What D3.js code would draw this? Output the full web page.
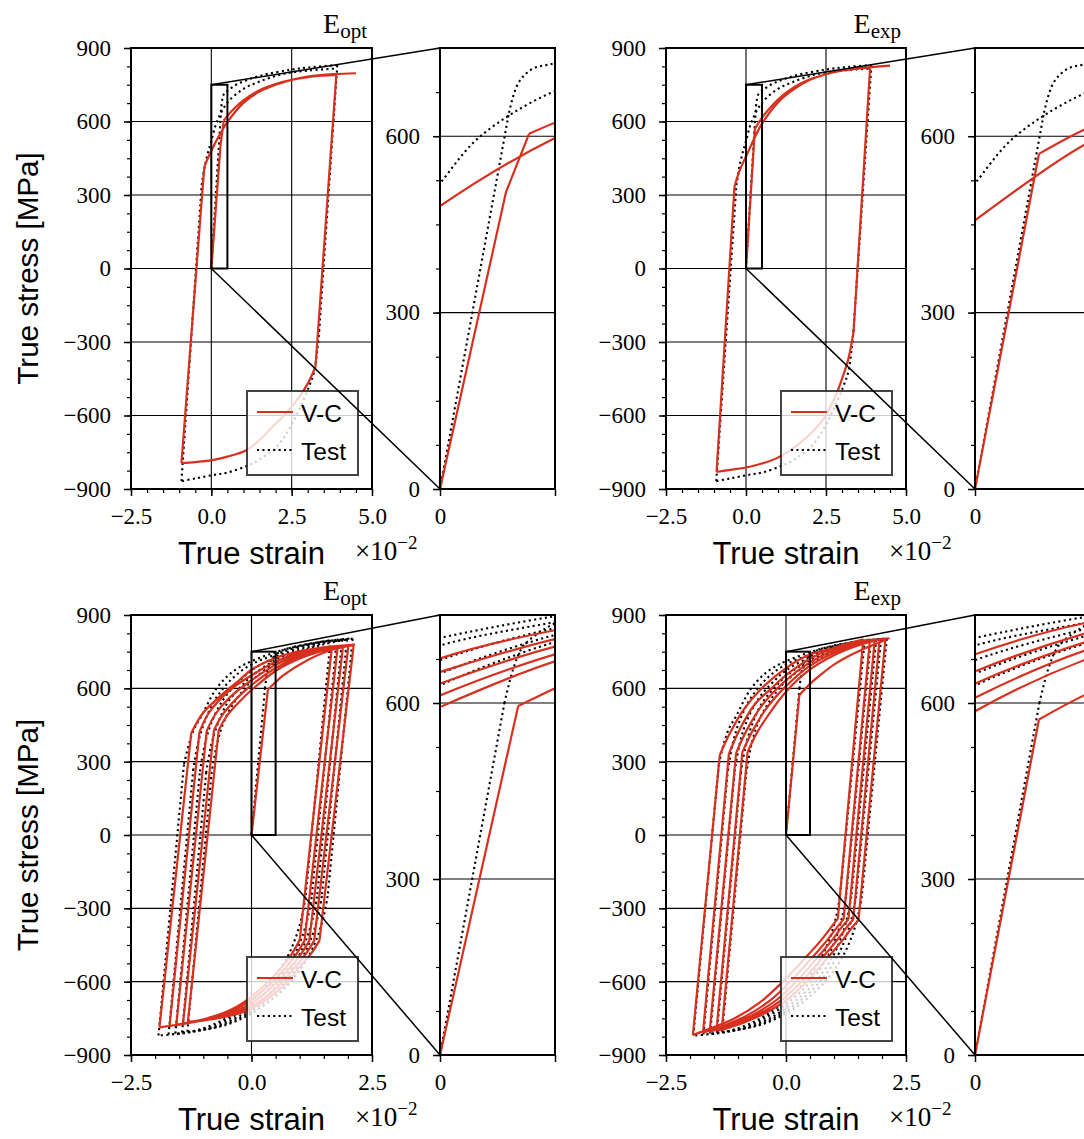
<!DOCTYPE html>
<html><head><meta charset="utf-8">
<script src="https://cdn.jsdelivr.net/npm/d3@7"></script>
<style>body{margin:0;background:#fff}svg{display:block}</style>
</head><body><svg id="c" width="1084" height="1139"></svg>
<script>
// ---------------- DATA (strain in units of 1e-2, stress in MPa) ----------------
const topXTicks = [-2.5, 0, 2.5, 5.0];
const botXTicks = [-2.5, 0, 2.5];
const yTicks = [-900, -600, -300, 0, 300, 600, 900];
const insetYTicks = [0, 300, 600];
const insetXTicks = [0, 0.5];
const insetXTickLabels = ["0", ""];
const zoomBox = {x: [0, 0.5], y: [0, 750]};
const titleSubs = ["opt", "exp"];
const legendLabels = ["V-C", "Test"];
const yLabel = "True stress [MPa]";
const xLabel = "True strain";

// Top-left: V-C with E_opt
const tlVC = [
 [[0,0],[0.287,505]],
 [[0.287,505],[0.387,604]],
 [[0.387,604],[0.5,623],[0.75,658],[1.0,686],[1.5,728],[2.0,753],[2.5,770],[3.0,781],[3.5,787],[3.89,790]],
 [[3.89,790],[3.24,-402]],
 [[3.24,-402],[3.0,-470],[2.74,-524],[2.3,-595],[1.9,-647],[1.5,-700],[1.09,-742],[0.5,-768],[0.03,-782],[-0.5,-790],[-0.93,-794]],
 [[-0.93,-794],[-0.22,414]],
 [[-0.22,414],[0,481],[0.5,597],[1.0,676],[1.5,722],[2.0,750],[2.5,770],[3.0,783],[3.8,793],[4.5,797]]
];
// Top-right: V-C with E_exp
const trVC = [
 [[0,0],[0.278,570]],
 [[0.278,570],[0.474,611],[0.75,655],[1.0,690],[1.5,740],[2.0,772],[2.5,793],[3.0,808],[3.5,817],[3.88,822]],
 [[3.88,822],[3.36,-260]],
 [[3.36,-260],[3.19,-374],[3.0,-450],[2.83,-510],[2.4,-618],[1.68,-713],[0.95,-775],[0.12,-809],[-0.5,-822],[-0.92,-830]],
 [[-0.92,-830],[-0.36,334]],
 [[-0.36,334],[-0.2,400],[0,457],[0.474,585],[1.0,678],[1.5,732],[2.0,770],[2.5,793],[3.03,808],[3.8,820],[4.5,828]]
];
// Top row: test data
const topTest = [
 [[0,0],[0.30,640]],
 [[0.30,640],[0.34,690],[0.40,714],[0.5,724],[0.8,752],[1.5,786],[2.5,812],[3.2,823],[3.92,830]],
 [[3.92,830],[3.36,-250]],
 [[3.36,-250],[3.3,-330],[3.2,-420],[3.03,-485],[2.7,-585],[2.4,-660],[2.05,-725],[1.5,-780],[1.1,-806],[0.5,-833],[0.05,-843],[-0.5,-857],[-0.93,-868]],
 [[-0.93,-868],[-0.30,340]],
 [[-0.30,340],[-0.2,420],[-0.1,475],[0,520],[0.17,598],[0.5,677],[1.0,733],[1.5,763],[2.2,793],[3.0,808],[3.88,816]]
];
// Bottom-left: cyclic V-C with E_opt
const blVC = [
 [[0,0],[0.34,595]],
 [[0.34,595],[0.5,625],[0.65,652],[1.13,712],[1.62,755],[2.12,777]],
 [[2.12,777],[1.41,-432]],
 [[1.41,-432],[1.24,-484],[1.0,-539],[0.72,-607],[0.30,-675],[-0.11,-720],[-0.66,-748],[-1.32,-764]],
 [[-1.32,-764],[-0.68,429]],
 [[-0.68,429],[-0.5,490],[-0.2,555],[0,593],[0.5,671],[1.0,722],[1.5,755],[2.01,776]],
 [[2.01,776],[1.30,-432]],
 [[1.30,-432],[1.13,-485],[0.9,-541],[0.6,-609],[0.2,-677],[-0.25,-724],[-0.8,-752],[-1.42,-770]],
 [[-1.42,-770],[-0.78,428]],
 [[-0.78,428],[-0.6,492],[-0.3,560],[0,613],[0.5,683],[1.0,730],[1.5,760],[1.90,775]],
 [[1.90,775],[1.20,-432]],
 [[1.20,-432],[1.03,-486],[0.8,-543],[0.48,-612],[0.05,-681],[-0.4,-728],[-0.95,-757],[-1.56,-776]],
 [[-1.56,-776],[-0.93,425]],
 [[-0.93,425],[-0.75,494],[-0.45,563],[0,633],[0.5,696],[1.0,738],[1.4,760],[1.79,773]],
 [[1.79,773],[1.10,-432]],
 [[1.10,-432],[0.93,-487],[0.7,-545],[0.36,-615],[-0.08,-685],[-0.55,-732],[-1.1,-762],[-1.70,-781]],
 [[-1.70,-781],[-1.08,421]],
 [[-1.08,421],[-0.9,495],[-0.6,565],[-0.3,615],[0,653],[0.5,709],[1.0,745],[1.67,771]],
 [[1.67,771],[1.00,-430]],
 [[1.00,-430],[0.83,-488],[0.6,-547],[0.25,-618],[-0.2,-690],[-0.7,-737],[-1.3,-767],[-1.91,-787]],
 [[-1.91,-787],[-1.25,417]],
 [[-1.25,417],[-1.01,498],[-0.66,566],[-0.25,634],[0,676],[0.5,724],[1.0,752],[1.5,768],[2.15,779]]
];
// Bottom-right: cyclic V-C with E_exp
const brVC = [
 [[0,0],[0.278,572]],
 [[0.278,572],[0.474,613],[0.75,660],[1.0,697],[1.34,735],[1.75,772],[2.07,798]],
 [[2.07,798],[1.51,-348]],
 [[1.51,-348],[1.35,-385],[1.2,-425],[0.92,-490],[0.5,-585],[0.08,-665],[-0.4,-725],[-0.85,-765],[-1.34,-798]],
 [[-1.34,-798],[-0.80,340]],
 [[-0.80,340],[-0.6,420],[-0.3,510],[0,586],[0.474,673],[1.0,735],[1.5,775],[1.95,800]],
 [[1.95,800],[1.40,-346]],
 [[1.40,-346],[1.24,-384],[1.08,-426],[0.8,-492],[0.37,-590],[-0.06,-670],[-0.55,-731],[-1.0,-770],[-1.45,-802]],
 [[-1.45,-802],[-0.91,338]],
 [[-0.91,338],[-0.7,425],[-0.4,520],[0,609],[0.474,689],[1.0,746],[1.5,783],[1.85,801]],
 [[1.85,801],[1.30,-345]],
 [[1.30,-345],[1.13,-385],[0.97,-428],[0.68,-495],[0.24,-594],[-0.2,-675],[-0.7,-737],[-1.15,-775],[-1.59,-805]],
 [[-1.59,-805],[-1.04,335]],
 [[-1.04,335],[-0.82,428],[-0.5,530],[0,633],[0.474,703],[1.0,756],[1.4,784],[1.75,801]],
 [[1.75,801],[1.20,-344]],
 [[1.20,-344],[1.03,-386],[0.86,-430],[0.56,-498],[0.1,-598],[-0.35,-680],[-0.85,-742],[-1.3,-780],[-1.73,-809]],
 [[-1.73,-809],[-1.19,332]],
 [[-1.19,332],[-0.97,430],[-0.65,535],[-0.3,600],[0,654],[0.474,718],[1.0,765],[1.61,800]],
 [[1.61,800],[1.08,-342]],
 [[1.08,-342],[0.9,-388],[0.72,-433],[0.4,-503],[-0.08,-603],[-0.55,-686],[-1.05,-748],[-1.5,-786],[-1.94,-818]],
 [[-1.94,-818],[-1.38,327]],
 [[-1.38,327],[-1.17,416],[-0.89,511],[-0.47,607],[0,683],[0.474,736],[1.06,768],[1.61,790],[2.16,805]]
];
// Bottom row: cyclic test data
const botTest = [
 [[0,0],[0.28,600]],
 [[0.28,600],[0.32,660],[0.36,696],[0.41,714],[0.5,736],[0.65,756],[1.0,773],[1.34,786],[1.7,796],[2.10,803]],
 [[2.10,803],[1.58,-250]],
 [[1.58,-250],[1.5,-330],[1.38,-410],[1.2,-490],[0.9,-580],[0.5,-660],[0,-730],[-0.5,-775],[-1.0,-797],[-1.33,-805]],
 [[-1.33,-805],[-0.83,250]],
 [[-0.83,250],[-0.73,360],[-0.6,450],[-0.4,530],[-0.2,585],[0,630],[0.5,704],[1.0,750],[1.5,780],[1.98,800]],
 [[1.98,800],[1.46,-250]],
 [[1.46,-250],[1.38,-332],[1.26,-412],[1.08,-492],[0.78,-583],[0.38,-664],[-0.12,-735],[-0.62,-780],[-1.1,-801],[-1.44,-808]],
 [[-1.44,-808],[-0.94,255]],
 [[-0.94,255],[-0.84,365],[-0.7,455],[-0.5,540],[-0.25,600],[0,650],[0.5,716],[1.0,757],[1.5,785],[1.88,800]],
 [[1.88,800],[1.36,-252]],
 [[1.36,-252],[1.28,-334],[1.16,-414],[0.98,-495],[0.67,-587],[0.26,-668],[-0.25,-740],[-0.75,-785],[-1.25,-806],[-1.58,-812]],
 [[-1.58,-812],[-1.07,260]],
 [[-1.07,260],[-0.97,370],[-0.83,460],[-0.6,550],[-0.3,620],[0,673],[0.5,728],[1.0,765],[1.4,785],[1.77,798]],
 [[1.77,798],[1.25,-254]],
 [[1.25,-254],[1.17,-336],[1.05,-416],[0.87,-497],[0.55,-590],[0.13,-672],[-0.4,-745],[-0.9,-790],[-1.4,-811],[-1.72,-816]],
 [[-1.72,-816],[-1.21,265]],
 [[-1.21,265],[-1.11,375],[-0.97,465],[-0.75,555],[-0.4,640],[0,698],[0.5,738],[1.0,772],[1.64,797]],
 [[1.64,797],[1.12,-256]],
 [[1.12,-256],[1.04,-338],[0.92,-418],[0.74,-500],[0.42,-594],[0,-678],[-0.55,-752],[-1.1,-797],[-1.6,-815],[-1.93,-820]],
 [[-1.93,-820],[-1.40,290]],
 [[-1.40,290],[-1.3,370],[-1.2,430],[-1.03,490],[-0.75,593],[-0.47,655],[-0.2,692],[0,711],[0.5,748],[1.0,775],[1.5,792],[2.10,805]]
];

// ---------------- LAYOUT / STYLE ----------------
const RED = "#d8301f";
const SERIF = "'Liberation Serif', 'Times New Roman', serif";
const SANS = "'Liberation Sans', Arial, sans-serif";
const svg = d3.select("#c");
const cols = [{mx:131, mw:241, ix:440}, {mx:666, mw:240, ix:975}];
const rows = [{my:48, mh:441, xDom:[-2.5,5.0], xTicks:topXTicks},
              {my:615, mh:440, xDom:[-2.5,2.5], xTicks:botXTicks}];
const insetW = 115;
const panels = [
  {r:0, c:0, vc:tlVC, test:topTest}, {r:0, c:1, vc:trVC, test:topTest},
  {r:1, c:0, vc:blVC, test:botTest}, {r:1, c:1, vc:brVC, test:botTest}
];
const yFmt = d3.format("d");
const xFmt = d3.format(".1f");

function styleAxis(g){
  g.select(".domain").remove();
  g.attr("font-family", SERIF).attr("font-size", 23);
  g.selectAll(".tick line").attr("stroke", "#000").attr("stroke-width", 1.5);
  g.selectAll(".tick text").attr("fill", "#000");
}
function styleMinor(g){
  g.select(".domain").remove();
  g.selectAll(".tick line").attr("stroke", "#000").attr("stroke-width", 1.2);
}

panels.forEach((p, pi) => {
  const col = cols[p.c], row = rows[p.r];
  const x = d3.scaleLinear().domain(row.xDom).range([col.mx, col.mx + col.mw]);
  const y = d3.scaleLinear().domain([-900, 900]).range([row.my + row.mh, row.my]);
  const xi = d3.scaleLinear().domain(zoomBox.x).range([col.ix, col.ix + insetW]);
  const yi = d3.scaleLinear().domain(zoomBox.y).range([row.my + row.mh, row.my]);

  const defs = svg.append("defs");
  defs.append("clipPath").attr("id", "cm" + pi).append("rect")
    .attr("x", col.mx).attr("y", row.my).attr("width", col.mw).attr("height", row.mh);
  defs.append("clipPath").attr("id", "ci" + pi).append("rect")
    .attr("x", col.ix).attr("y", row.my).attr("width", insetW).attr("height", row.mh);

  function drawAxes(xs, ys, clipId, isInset){
    const g = svg.append("g");
    const gx = isInset ? insetXTicks : row.xTicks;
    const gy = isInset ? insetYTicks : yTicks;
    g.selectAll(".gx").data(gx).join("line")
      .attr("x1", d => xs(d)).attr("x2", d => xs(d)).attr("y1", ys.range()[0]).attr("y2", ys.range()[1])
      .attr("stroke", "#000").attr("stroke-width", 1.1);
    g.selectAll(".gy").data(gy).join("line")
      .attr("y1", d => ys(d)).attr("y2", d => ys(d)).attr("x1", xs.range()[0]).attr("x2", xs.range()[1])
      .attr("stroke", "#000").attr("stroke-width", 1.1);
    const line = d3.line().x(d => xs(d[0])).y(d => ys(d[1])).curve(d3.curveCatmullRom.alpha(0.5));
    const cg = svg.append("g").attr("clip-path", `url(#${clipId})`);
    cg.append("path").attr("d", p.test.map(b => line(b)).join(""))
      .attr("fill", "none").attr("stroke", "#000").attr("stroke-width", 2.1)
      .attr("stroke-dasharray", "2.1,3.3");
    cg.append("path").attr("d", p.vc.map(b => line(b)).join(""))
      .attr("fill", "none").attr("stroke", RED).attr("stroke-width", 2.2)
      .attr("stroke-linejoin", "round");
    return g;
  }

  // main axes
  drawAxes(x, y, "cm" + pi, false);
  svg.append("rect").attr("x", x(zoomBox.x[0])).attr("y", y(zoomBox.y[1]))
    .attr("width", x(zoomBox.x[1]) - x(zoomBox.x[0])).attr("height", y(zoomBox.y[0]) - y(zoomBox.y[1]))
    .attr("fill", "none").attr("stroke", "#000").attr("stroke-width", 2);
  const yMinor = d3.range(-900, 901, 75);
  const xMinor = d3.range(row.xDom[0], row.xDom[1] + 0.001, 0.5);
  svg.append("g").attr("transform", `translate(${col.mx},0)`)
    .call(d3.axisLeft(y).tickValues(yMinor).tickSize(4).tickFormat("")).call(styleMinor);
  svg.append("g").attr("transform", `translate(${col.mx},0)`)
    .call(d3.axisLeft(y).tickValues(yTicks).tickSize(7).tickPadding(13).tickFormat(yFmt)).call(styleAxis);
  svg.append("g").attr("transform", `translate(0,${row.my + row.mh})`)
    .call(d3.axisBottom(x).tickValues(xMinor).tickSize(4).tickFormat("")).call(styleMinor);
  svg.append("g").attr("transform", `translate(0,${row.my + row.mh})`)
    .call(d3.axisBottom(x).tickValues(row.xTicks).tickSize(7).tickPadding(12).tickFormat(xFmt)).call(styleAxis);
  svg.append("rect").attr("x", col.mx).attr("y", row.my).attr("width", col.mw).attr("height", row.mh)
    .attr("fill", "none").attr("stroke", "#000").attr("stroke-width", 2);

  // inset axes
  drawAxes(xi, yi, "ci" + pi, true);
  const yiMinor = d3.range(0, 751, 75);
  svg.append("g").attr("transform", `translate(${col.ix},0)`)
    .call(d3.axisLeft(yi).tickValues(yiMinor).tickSize(4).tickFormat("")).call(styleMinor);
  svg.append("g").attr("transform", `translate(${col.ix},0)`)
    .call(d3.axisLeft(yi).tickValues(insetYTicks).tickSize(7).tickPadding(13).tickFormat(yFmt)).call(styleAxis);
  svg.append("g").attr("transform", `translate(0,${row.my + row.mh})`)
    .call(d3.axisBottom(xi).tickValues(insetXTicks).tickSize(7).tickPadding(12)
      .tickFormat((d, i) => insetXTickLabels[i])).call(styleAxis);
  svg.append("rect").attr("x", col.ix).attr("y", row.my).attr("width", insetW).attr("height", row.mh)
    .attr("fill", "none").attr("stroke", "#000").attr("stroke-width", 2);

  // legend
  const lx = col.mx + col.mw - 125, ly = row.my + row.mh - 98;
  const lg = svg.append("g");
  lg.append("rect").attr("x", lx).attr("y", ly).attr("width", 111).attr("height", 84)
    .attr("fill", "#fff").attr("fill-opacity", 0.8).attr("stroke", "#222").attr("stroke-opacity", 0.85).attr("stroke-width", 2);
  legendLabels.forEach((lab, i) => {
    const yy = ly + 21 + i * 38;
    lg.append("line").attr("x1", lx + 10).attr("x2", lx + 46).attr("y1", yy).attr("y2", yy)
      .attr("stroke", i === 0 ? RED : "#000").attr("stroke-width", i === 0 ? 2.2 : 2.1)
      .attr("stroke-dasharray", i === 0 ? null : "2.1,3.3");
    lg.append("text").attr("x", lx + 54).attr("y", yy + 10).attr("font-family", SANS)
      .attr("font-size", 24.5).attr("fill", "#000").text(lab);
  });

  // inset connector lines
  svg.append("line").attr("x1", x(zoomBox.x[0])).attr("y1", y(zoomBox.y[1]))
    .attr("x2", xi(zoomBox.x[0])).attr("y2", yi(zoomBox.y[1])).attr("stroke", "#000").attr("stroke-width", 1.5);
  svg.append("line").attr("x1", x(zoomBox.x[0])).attr("y1", y(zoomBox.y[0]))
    .attr("x2", xi(zoomBox.x[0])).attr("y2", yi(zoomBox.y[0])).attr("stroke", "#000").attr("stroke-width", 1.5);

  // title
  const t = svg.append("text").attr("x", col.mx + col.mw - 5).attr("y", row.my - 15)
    .attr("text-anchor", "end").attr("font-family", SERIF).attr("font-size", 28).attr("fill", "#000");
  t.append("tspan").text("E");
  t.append("tspan").attr("font-size", 21).attr("dy", 5).text(titleSubs[p.c]);

  // x label + offset text
  svg.append("text").attr("x", col.mx + col.mw / 2).attr("y", row.my + row.mh + 75)
    .attr("text-anchor", "middle").attr("font-family", SANS).attr("font-size", 31).attr("fill", "#000").text(xLabel);
  const o = svg.append("text").attr("x", col.mx + col.mw - 17).attr("y", row.my + row.mh + 71)
    .attr("font-family", SERIF).attr("font-size", 27).attr("fill", "#000");
  o.append("tspan").text("×10");
  o.append("tspan").attr("font-size", 19).attr("dy", -11).text("−2");

  // y label
  if (p.c === 0) {
    svg.append("text").attr("transform", `translate(38,${row.my + row.mh / 2}) rotate(-90)`)
      .attr("text-anchor", "middle").attr("font-family", SANS).attr("font-size", 29.6).attr("fill", "#000").text(yLabel);
  }
});
</script></body></html>
